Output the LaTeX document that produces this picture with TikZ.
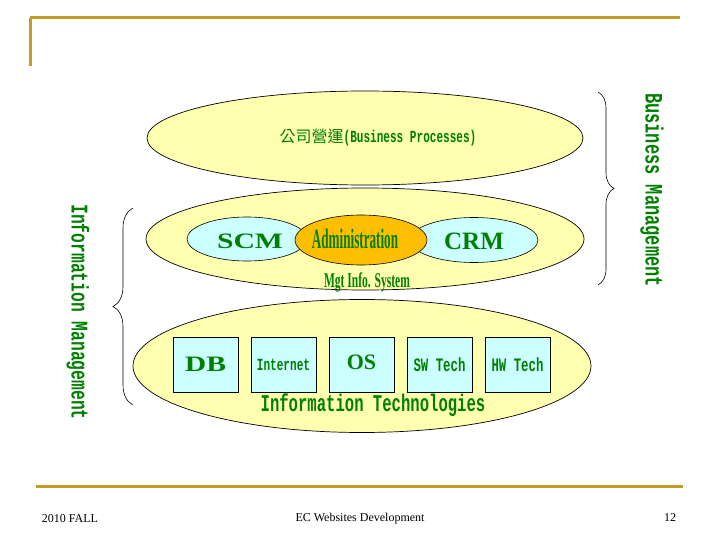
\documentclass[tikz,border=0pt]{standalone}
\usepackage{fontspec}
\usepackage{tikz}
\usetikzlibrary{shapes.geometric,positioning,decorations.pathreplacing}
\setmainfont{Liberation Serif}
\newfontfamily\cjkfont{Noto Sans CJK TC}
\newfontfamily\monoA[FakeStretch=0.65]{Liberation Mono}
\newfontfamily\monoB[FakeStretch=0.68]{Liberation Mono}
\newfontfamily\serifN[FakeStretch=0.55]{Liberation Serif}
\newfontfamily\serifX[FakeStretch=0.47]{Liberation Serif}
\newfontfamily\serifW[FakeStretch=1.35]{Liberation Serif}
\definecolor{Slide-Gold}{RGB}{196, 156, 40}
\definecolor{Layer-Yellow}{RGB}{255, 255, 176}
\definecolor{Part-Cyan}{RGB}{204, 255, 255}
\definecolor{Part-Orange}{RGB}{255, 190, 0}
\definecolor{Label-Green}{RGB}{0, 128, 0}

\begin{document}
\begin{tikzpicture}[x=1pt, y=-1pt,
  layer/.style={ellipse, draw=black, line width=0.7pt, fill=Layer-Yellow, inner sep=0pt, outer sep=0pt},
  part/.style={ellipse, draw=black, line width=0.6pt, inner sep=0pt, outer sep=0pt},
  techbox/.style={rectangle, draw=black, line width=0.6pt, fill=Part-Cyan, minimum width=65pt, minimum height=55pt, inner sep=0pt, outer sep=0pt},
  lbl/.style={text=Label-Green, inner sep=0pt},
  goldline/.style={draw=Slide-Gold, line width=3pt},
  footer/.style={font=\fontsize{12}{14}\selectfont, inner sep=0pt}]

\useasboundingbox (0,0) rectangle (720,540);

% slide frame
\draw[goldline] (30,18) -- (680,18);
\draw[goldline] (30,18) -- (30,66);
\draw[goldline] (36,486) -- (683,486);

% business processes layer
\node [layer, minimum width=436pt, minimum height=94pt] (bp) at (365,138) {};
\node [lbl] (bptext) at (378,138) {{\cjkfont\fontsize{16}{18}\selectfont 公司營運}{\monoA\bfseries\fontsize{17}{19}\selectfont (Business Processes)}};

% management information system layer
\node [layer, minimum width=438pt, minimum height=102pt] (mis) at (365,239) {};
\node [part, fill=Part-Cyan, minimum width=120pt, minimum height=44pt] (scm) at (247,239) {};
\node [part, fill=Part-Cyan, minimum width=128pt, minimum height=45pt] (crm) at (474,240) {};
\node [part, fill=Part-Orange, minimum width=132pt, minimum height=50pt] (adm) at (361,240) {};
\node [lbl, font=\serifW\bfseries\fontsize{22}{24}\selectfont] (scmtext) at (250,241) {SCM};
\node [lbl, font=\bfseries\fontsize{25}{27}\selectfont] (crmtext) at (474,241) {CRM};
\node [lbl, font=\serifX\bfseries\fontsize{28}{30}\selectfont] (admtext) at (355,239) {Administration};
\node [lbl, font=\serifN\bfseries\fontsize{21}{23}\selectfont] (mistext) at (367,282) {Mgt Info. System};

% information technologies layer
\node [layer, minimum width=458pt, minimum height=133pt] (it) at (362,366) {};
\node [techbox] (db) at (205.5,364.5) {};
\node [techbox, right=13pt of db] (inet) {};
\node [techbox, right=13pt of inet] (os) {};
\node [techbox, right=13pt of os] (sw) {};
\node [techbox, right=13pt of sw] (hw) {};
\node [lbl, font=\serifW\bfseries\fontsize{22}{24}\selectfont] at (db.center) {DB};
\node [lbl, font=\monoA\bfseries\fontsize{17}{19}\selectfont] at (inet.center) {Internet};
\node [lbl, font=\bfseries\fontsize{22}{24}\selectfont, yshift=2pt] at (os.center) {OS};
\node [lbl, font=\monoA\bfseries\fontsize{19}{21}\selectfont] at (sw.center) {SW Tech};
\node [lbl, font=\monoA\bfseries\fontsize{19}{21}\selectfont] at (hw.center) {HW Tech};
\node [lbl, font=\monoA\bfseries\fontsize{24}{26}\selectfont] (ittext) at (373,405) {Information Technologies};

% braces and side titles
\coordinate (imtop) at (133,208);
\coordinate (imbot) at (133,405);
\coordinate (bmtop) at (598,92);
\coordinate (bmbot) at (598,285);
\draw [line width=0.6pt, decorate, decoration={brace, amplitude=20pt}] (imbot) -- (imtop);
\draw [line width=0.6pt, decorate, decoration={brace, amplitude=16pt}] (bmtop) -- (bmbot);
\node [lbl, rotate=-90, font=\monoB\bfseries\fontsize{24}{26}\selectfont] (im) at (78,312) {Information Management};
\node [lbl, rotate=-90, font=\monoB\bfseries\fontsize{25}{27}\selectfont] (bm) at (652,190) {Business Management};

% footer
\node [footer] (date) at (70,519) {2010 FALL};
\node [footer] (course) at (360,519) {EC Websites Development};
\node [footer] (page) at (670,518) {12};

\end{tikzpicture}
\end{document}
